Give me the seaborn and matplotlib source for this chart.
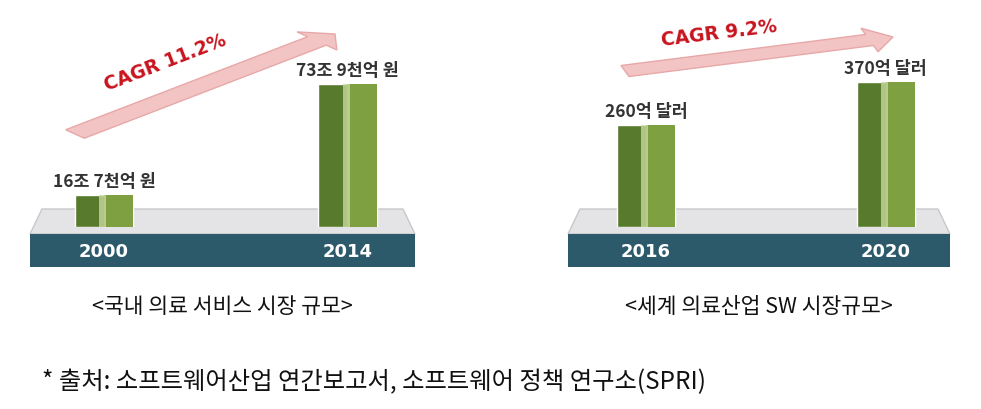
import matplotlib
matplotlib.use("Agg")
import matplotlib.pyplot as plt
import seaborn as sns
import pandas as pd
from matplotlib.patches import Polygon, Rectangle, FancyArrow

sns.set_style("white")
plt.rcParams['font.family'] = ['Noto Sans CJK KR', 'DejaVu Sans']

left_years = ["2000", "2014"]
left_values = [16.7, 73.9]
left_labels = ["16조 7천억 원", "73조 9천억 원"]
right_years = ["2016", "2020"]
right_values = [260, 370]
right_labels = ["260억 달러", "370억 달러"]
left_cagr = "CAGR 11.2%"
right_cagr = "CAGR 9.2%"
left_title = "<국내 의료 서비스 시장 규모>"
right_title = "<세계 의료산업 SW 시장규모>"
footnote = "* 출처: 소프트웨어산업 연간보고서, 소프트웨어 정책 연구소(SPRI)"

W, H = 981, 410
fig = plt.figure(figsize=(W/100, H/100), dpi=100)

def fx(px): return px / W
def fy(py): return 1 - py / H

def panel(x0, x1, years, values, labels, ymax, xlim, cagr, arrow, rot, title):
    fig.add_artist(Polygon([(fx(x0+12), fy(210)), (fx(x1-12), fy(210)), (fx(x1), fy(235)), (fx(x0), fy(235))],
                           closed=True, transform=fig.transFigure, facecolor="#e4e4e6", edgecolor="#c8c8cc", zorder=0))
    fig.add_artist(Rectangle((fx(x0), fy(268)), fx(x1) - fx(x0), fy(235) - fy(268),
                             transform=fig.transFigure, facecolor="#2d5a6b", edgecolor="none", zorder=0))
    ax = fig.add_axes([fx(x0), fy(228), fx(x1) - fx(x0), fy(40) - fy(228)])
    ax.patch.set_alpha(0)
    df = pd.DataFrame({"year": years, "value": values})
    sns.barplot(data=df, x="year", y="value", ax=ax, color="#587a2c", width=0.24, saturation=1)
    for p, lab in zip(ax.patches, labels):
        x, w, h = p.get_x(), p.get_width(), p.get_height()
        ax.add_patch(Rectangle((x + w*0.5, 0), w*0.5, h, facecolor="#7fa040", edgecolor="none"))
        ax.add_patch(Rectangle((x + w*0.42, 0), w*0.12, h, facecolor="#c7d8a0", edgecolor="none", alpha=0.8))
        ax.text(x + w/2, h + ymax*0.025, lab, ha="center", va="bottom", fontsize=12.5,
                fontweight="bold", color="#333333")
    ax.set_ylim(0, ymax)
    ax.set_xlim(*xlim)
    ax.axis("off")
    for p, yr in zip(ax.patches[:len(years)], years):
        cx = ax.transData.transform((p.get_x() + p.get_width()/2, 0))[0] / fig.dpi / fig.get_figwidth()
        fig.text(cx, fy(252), yr, ha="center", va="center", color="white", fontsize=13, fontweight="bold",
                 family="DejaVu Sans")
    (ax0, ay0), (ax1, ay1) = arrow
    fig.add_artist(FancyArrow(fx(ax0), fy(ay0), fx(ax1) - fx(ax0), fy(ay1) - fy(ay0), width=0.028,
                              head_width=0.06, head_length=0.025, length_includes_head=True,
                              transform=fig.transFigure, facecolor="#f2c4c4", edgecolor="#e8a8a8", zorder=1))
    tx = fx((ax0 + ax1)/2 - 40); ty = fy((ay0 + ay1)/2 - 22)
    fig.text(tx, ty, cagr, rotation=rot, ha="center", va="center", color="#c8141e",
             fontsize=13.5, fontweight="bold", family="DejaVu Sans", zorder=3)
    fig.text(fx((x0 + x1)/2), fy(307), title, ha="center", va="center", fontsize=15.5, color="#111111")

panel(30, 415, left_years, left_values, left_labels, 97.2, (-0.304, 1.278), left_cagr,
      ((75, 135), (335, 35)), 21, left_title)
panel(568, 950, right_years, right_values, right_labels, 480, (-0.325, 1.268), right_cagr,
      ((625, 72), (893, 38)), 7, right_title)

fig.text(fx(42), fy(382), footnote, ha="left", va="center", fontsize=17.5, color="#111111")
fig.savefig("out.png", dpi=100, facecolor="white")
